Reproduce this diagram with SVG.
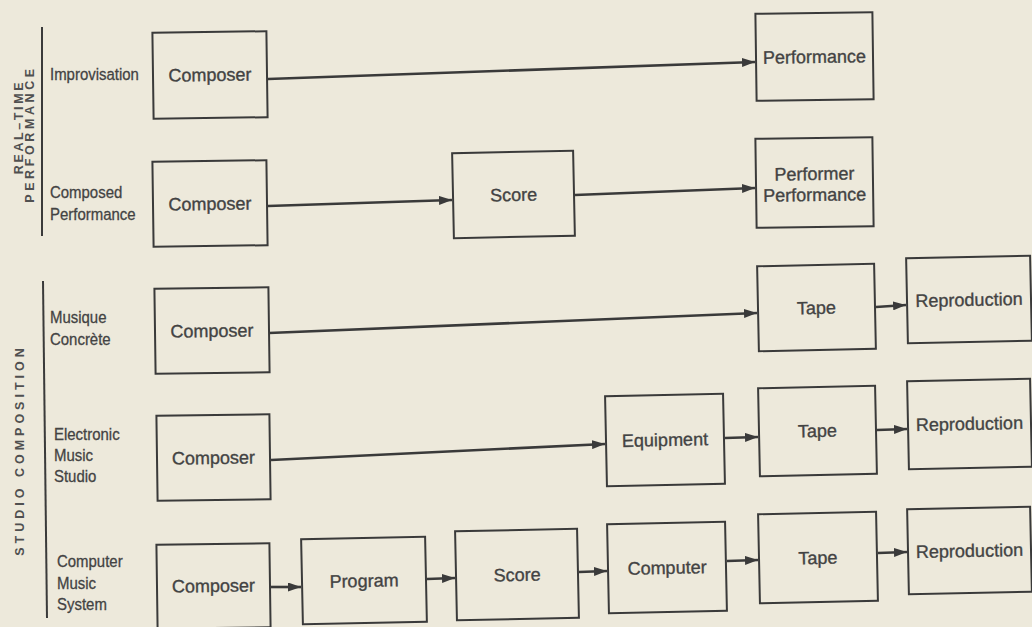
<svg xmlns="http://www.w3.org/2000/svg" width="1032" height="627" viewBox="0 0 1032 627">
  <style>
    .box { fill: none; stroke: #3a3a3a; stroke-width: 2; }
    .lbl { font-family: "Liberation Sans", Arial, sans-serif; font-size: 18px; fill: #434343; stroke: #434343; stroke-width: 0.35; text-anchor: middle; }
    .side { font-family: "Liberation Sans", Arial, sans-serif; font-size: 17px; fill: #434343; stroke: #434343; stroke-width: 0.3; }
    .cat { font-family: "Liberation Sans", Arial, sans-serif; font-size: 12.5px; font-weight: bold; fill: #505050; text-anchor: middle; }
    .rule { stroke: #3a3a3a; stroke-width: 2; fill: none; }
    .conn line { stroke: #3a3a3a; stroke-width: 2.6; marker-end: url(#arrow); }
  </style>
  <defs>
    <marker id="arrow" markerUnits="userSpaceOnUse" markerWidth="13" markerHeight="9" refX="13" refY="4.5" orient="auto">
      <path d="M0,0 L13,4.5 L0,9 z" fill="#3a3a3a"/>
    </marker>
  </defs>

  <!-- paper -->
  <rect x="0" y="0" width="1032" height="627" fill="#ede9db"/>

  <!-- category headings and rules -->
  <g id="category-realtime">
    <text class="cat" letter-spacing="2.6" transform="translate(22.5,127) rotate(-90)">REAL–TIME</text>
    <text class="cat" letter-spacing="3.6" transform="translate(34,134) rotate(-90)">PERFORMANCE</text>
    <line class="rule" x1="42" y1="27" x2="42" y2="236"/>
  </g>
  <g id="category-studio">
    <text class="cat" letter-spacing="4" transform="translate(24,450) rotate(-90)">STUDIO COMPOSITION</text>
    <line class="rule" x1="43" y1="281" x2="47" y2="618"/>
  </g>

  <!-- row labels (narrow set) -->
  <g id="row-labels">
    <text class="side" transform="translate(50,80) scale(0.88 1)">Improvisation</text>
    <text class="side" transform="translate(50,198) scale(0.88 1)">Composed</text>
    <text class="side" transform="translate(50,220) scale(0.88 1)">Performance</text>
    <text class="side" transform="translate(50,323) scale(0.88 1)">Musique</text>
    <text class="side" transform="translate(50,345) scale(0.88 1)">Concrète</text>
    <text class="side" transform="translate(54,440) scale(0.88 1)">Electronic</text>
    <text class="side" transform="translate(54,461) scale(0.88 1)">Music</text>
    <text class="side" transform="translate(54,482) scale(0.88 1)">Studio</text>
    <text class="side" transform="translate(57,567) scale(0.88 1)">Computer</text>
    <text class="side" transform="translate(57,589) scale(0.88 1)">Music</text>
    <text class="side" transform="translate(57,610) scale(0.88 1)">System</text>
  </g>

  <!-- connectors -->
  <g id="connectors" class="conn">
    <line x1="268" y1="79" x2="755" y2="62"/>
    <line x1="268" y1="206" x2="452" y2="200"/>
    <line x1="575" y1="195" x2="755" y2="188"/>
    <line x1="269" y1="333" x2="757" y2="313"/>
    <line x1="876" y1="307" x2="906" y2="305"/>
    <line x1="271" y1="460" x2="605" y2="444"/>
    <line x1="725" y1="438" x2="758" y2="437"/>
    <line x1="877" y1="430" x2="907" y2="429"/>
    <line x1="271" y1="587" x2="301" y2="587"/>
    <line x1="427" y1="579" x2="455" y2="578"/>
    <line x1="579" y1="572" x2="607" y2="571"/>
    <line x1="727" y1="561" x2="758" y2="560"/>
    <line x1="878" y1="553" x2="907" y2="552"/>
  </g>

  <!-- row 1: improvisation -->
  <g id="composer-1" transform="rotate(-0.8 210 75)">
    <rect class="box" x="153" y="32" width="114" height="86"/>
    <text class="lbl" x="210" y="81">Composer</text>
  </g>
  <g id="performance-1" transform="rotate(-0.8 814.5 56.5)">
    <rect class="box" x="756" y="13" width="117" height="87"/>
    <text class="lbl" x="814.5" y="63">Performance</text>
  </g>

  <!-- row 2: composed performance -->
  <g id="composer-2" transform="rotate(-0.8 210 203.5)">
    <rect class="box" x="153" y="161" width="114" height="85"/>
    <text class="lbl" x="210" y="210">Composer</text>
  </g>
  <g id="score-2" transform="rotate(-1.2 513.5 194.5)">
    <rect class="box" x="453" y="152" width="121" height="85"/>
    <text class="lbl" x="513.5" y="201">Score</text>
  </g>
  <g id="performer-2" transform="rotate(-0.8 814.5 182.5)">
    <rect class="box" x="756" y="138" width="117" height="89"/>
    <text class="lbl" x="814.5" y="180">Performer</text>
    <text class="lbl" x="814.5" y="201">Performance</text>
  </g>

  <!-- row 3: musique concrete -->
  <g id="composer-3" transform="rotate(-0.8 212 330.5)">
    <rect class="box" x="155" y="288" width="114" height="85"/>
    <text class="lbl" x="212" y="337">Composer</text>
  </g>
  <g id="tape-3" transform="rotate(-1.2 816.5 307.5)">
    <rect class="box" x="758" y="265" width="117" height="85"/>
    <text class="lbl" x="816.5" y="314">Tape</text>
  </g>
  <g id="reproduction-3" transform="rotate(-1.2 969 299.5)">
    <rect class="box" x="907" y="257" width="124" height="85"/>
    <text class="lbl" x="969" y="306">Reproduction</text>
  </g>

  <!-- row 4: electronic music studio -->
  <g id="composer-4" transform="rotate(-0.8 213.5 457.5)">
    <rect class="box" x="157" y="415" width="113" height="85"/>
    <text class="lbl" x="213.5" y="464">Composer</text>
  </g>
  <g id="equipment-4" transform="rotate(-1.2 665 440)">
    <rect class="box" x="606" y="395" width="118" height="90"/>
    <text class="lbl" x="665" y="446">Equipment</text>
  </g>
  <g id="tape-4" transform="rotate(-1.2 817.5 431)">
    <rect class="box" x="759" y="387" width="117" height="88"/>
    <text class="lbl" x="817.5" y="437">Tape</text>
  </g>
  <g id="reproduction-4" transform="rotate(-1.2 969.5 424)">
    <rect class="box" x="908" y="380" width="123" height="88"/>
    <text class="lbl" x="969.5" y="430">Reproduction</text>
  </g>

  <!-- row 5: computer music system -->
  <g id="composer-5" transform="rotate(-0.8 213.5 586)">
    <rect class="box" x="157" y="544" width="113" height="84"/>
    <text class="lbl" x="213.5" y="592">Composer</text>
  </g>
  <g id="program-5" transform="rotate(-1.2 364 580.5)">
    <rect class="box" x="302" y="538" width="124" height="85"/>
    <text class="lbl" x="364" y="587">Program</text>
  </g>
  <g id="score-5" transform="rotate(-1.2 517 574.5)">
    <rect class="box" x="456" y="530" width="122" height="89"/>
    <text class="lbl" x="517" y="581">Score</text>
  </g>
  <g id="computer-5" transform="rotate(-1.2 667 567.5)">
    <rect class="box" x="608" y="523" width="118" height="89"/>
    <text class="lbl" x="667" y="574">Computer</text>
  </g>
  <g id="tape-5" transform="rotate(-1.2 818 557.5)">
    <rect class="box" x="759" y="513" width="118" height="89"/>
    <text class="lbl" x="818" y="564">Tape</text>
  </g>
  <g id="reproduction-5" transform="rotate(-1.2 969.5 550.5)">
    <rect class="box" x="908" y="508" width="123" height="85"/>
    <text class="lbl" x="969.5" y="557">Reproduction</text>
  </g>
</svg>
